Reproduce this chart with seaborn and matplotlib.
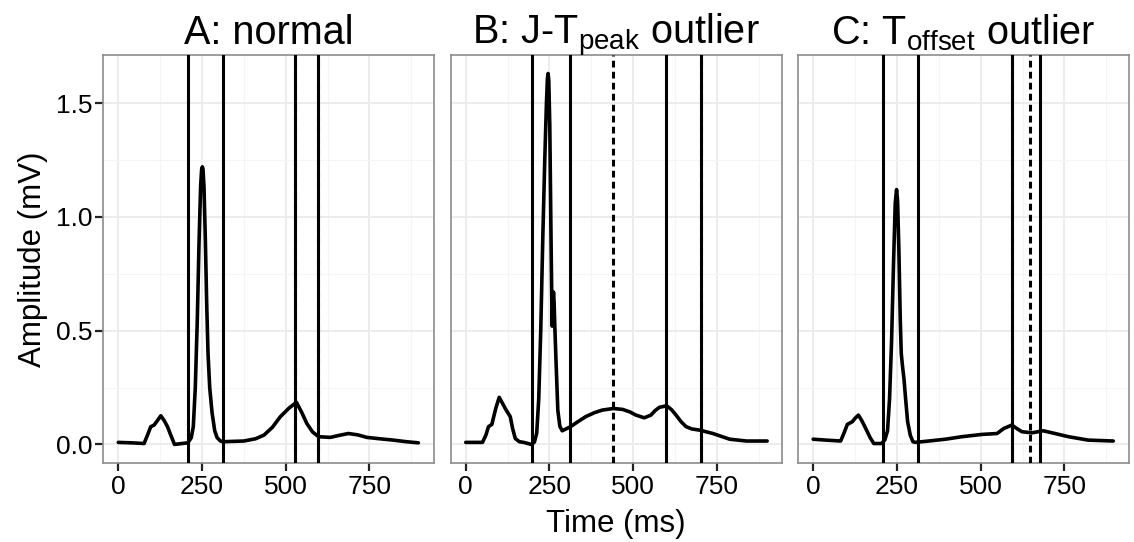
import numpy as np
import pandas as pd
import matplotlib
matplotlib.use("Agg")
import matplotlib.pyplot as plt
import seaborn as sns
from matplotlib.ticker import MultipleLocator

sns.set_theme(style="whitegrid")
plt.rcParams['font.family'] = ['Liberation Sans', 'DejaVu Sans']
plt.rcParams['mathtext.fontset'] = 'custom'
plt.rcParams['mathtext.rm'] = 'Liberation Sans'
plt.rcParams['text.color'] = 'black'
plt.rcParams['axes.labelcolor'] = 'black'

# ---- data (time in ms, amplitude in mV) ----
time_a = [0, 40, 77, 87, 97, 107, 117, 127, 137, 147, 157, 168, 190, 208, 218, 224, 230, 236,
          241, 246, 249, 251, 253, 256, 260, 264, 268, 273, 280, 288, 295, 305, 313, 375,
          410, 435, 460, 484, 510, 532, 548, 563, 580, 598, 633, 660, 687, 715, 742, 780,
          821, 860, 896]
amp_a = [0.009, 0.007, 0.004, 0.04, 0.078, 0.085, 0.105, 0.126, 0.105, 0.078, 0.04, 0.0,
         0.004, 0.007, 0.03, 0.078, 0.25, 0.55, 0.88, 1.14, 1.21, 1.22, 1.21, 1.13, 0.9, 0.62,
         0.4, 0.25, 0.14, 0.06, 0.03, 0.015, 0.012, 0.015, 0.025, 0.041, 0.075, 0.122, 0.16,
         0.185, 0.14, 0.092, 0.055, 0.034, 0.031, 0.04, 0.048, 0.042, 0.031, 0.025, 0.019,
         0.012, 0.007]

time_b = [0, 50, 60, 68, 78, 90, 100, 110, 118, 133, 140, 148, 160, 173, 196, 205, 212, 218,
          224, 230, 236, 241, 244, 246, 248, 251, 254, 256, 258, 260, 262, 264, 266, 270, 275,
          281, 288, 295, 313, 335, 358, 385, 408, 441, 468, 490, 508, 533, 553, 565, 578, 600,
          615, 628, 643, 658, 675, 698, 738, 788, 838, 900]
amp_b = [0.009, 0.009, 0.04, 0.078, 0.088, 0.16, 0.207, 0.18, 0.158, 0.122, 0.07, 0.026,
         0.012, 0.009, 0.0, 0.01, 0.05, 0.2, 0.5, 0.9, 1.25, 1.5, 1.61, 1.63, 1.6, 1.4, 1.0,
         0.75, 0.52, 0.6, 0.67, 0.62, 0.52, 0.35, 0.15, 0.08, 0.06, 0.065, 0.078, 0.1, 0.122,
         0.14, 0.151, 0.158, 0.154, 0.143, 0.129, 0.117, 0.129, 0.148, 0.163, 0.170, 0.152,
         0.129, 0.1, 0.078, 0.068, 0.063, 0.048, 0.023, 0.015, 0.015]

time_c = [0, 38, 82, 92, 102, 117, 125, 135, 145, 157, 170, 181, 204, 214, 222, 228, 234, 240,
          245, 249, 252, 256, 260, 263, 267, 271, 276, 282, 290, 298, 305, 345, 395, 444, 504,
          549, 569, 593, 608, 623, 653, 687, 722, 762, 821, 896]
amp_c = [0.023, 0.019, 0.015, 0.05, 0.088, 0.10, 0.115, 0.129, 0.105, 0.07, 0.03, 0.004,
         0.004, 0.02, 0.06, 0.2, 0.45, 0.8, 1.06, 1.12, 1.07, 0.85, 0.55, 0.4, 0.34, 0.29,
         0.2, 0.1, 0.04, 0.012, 0.009, 0.015, 0.023, 0.034, 0.044, 0.048, 0.07, 0.085, 0.07,
         0.056, 0.051, 0.06, 0.048, 0.034, 0.019, 0.015]

# annotated fiducial points (solid) and reference points (dashed)
solid_a = [208, 313, 529, 595]
dashed_a = [529, 597]
solid_b = [199, 311, 597, 701]
dashed_b = [440, 701]
solid_c = [207, 313, 593, 676]
dashed_c = [593, 648]

titles = ["A: normal", r"B: J-T$_{\mathrm{peak}}$ outlier", r"C: T$_{\mathrm{offset}}$ outlier"]
x_ticks = [0, 250, 500, 750]
y_ticks = [0.0, 0.5, 1.0, 1.5]

panels = [
    (time_a, amp_a, solid_a, dashed_a),
    (time_b, amp_b, solid_b, dashed_b),
    (time_c, amp_c, solid_c, dashed_c),
]

fig, axes = plt.subplots(1, 3, figsize=(11.34, 5.42), dpi=100, sharey=True)
fig.subplots_adjust(left=0.091, right=0.9956, top=0.8985, bottom=0.1458, wspace=0.05)

for i, (ax, (t, a, sol, das)) in enumerate(zip(axes, panels)):
    df = pd.DataFrame({"time": t, "amp": a})
    sns.lineplot(data=df, x="time", y="amp", ax=ax, color="black", linewidth=2.6)
    for v in sol:
        ax.axvline(v, color="black", linewidth=2.2, zorder=3)
    for v in das:
        ax.axvline(v, color="black", linewidth=2.2, ls=(0, (2.2, 1.4)), zorder=3)

    ax.set_xlim(-45, 943)
    ax.set_ylim(-0.0815, 1.7115)
    ax.set_xticks(x_ticks)
    ax.set_xticklabels([str(v) for v in x_ticks])
    ax.xaxis.set_minor_locator(MultipleLocator(125))
    ax.yaxis.set_minor_locator(MultipleLocator(0.25))
    ax.set_yticks(y_ticks)
    ax.set_facecolor("white")
    ax.grid(True, which="major", color="#EBEBEB", lw=1.3)
    ax.grid(True, which="minor", color="#F5F5F5", lw=0.8)
    ax.set_axisbelow(True)
    for s in ax.spines.values():
        s.set_visible(True)
        s.set_color("#8c8c8c")
        s.set_linewidth(1.2)
    ax.tick_params(axis="x", which="major", length=5.5, width=1.6, color="#222222",
                   labelsize=19, labelcolor="black", pad=3, bottom=True)
    ax.tick_params(which="minor", length=0)
    if i == 0:
        ax.tick_params(axis="y", which="major", length=5.5, width=1.6, color="#222222",
                       labelsize=19, labelcolor="black", pad=2, left=True)
        ax.set_yticklabels(["0.0", "0.5", "1.0", "1.5"])
        ax.set_ylabel("Amplitude (mV)", fontsize=22.5, labelpad=6)
    else:
        ax.tick_params(axis="y", which="both", length=0, left=False, labelleft=False)
        ax.set_ylabel("")
    ax.set_xlabel("")
    ax.set_title(titles[i], fontsize=28.5, pad=8)

fig.supxlabel("Time (ms)", fontsize=22.5, x=0.543, y=0.005)

plt.savefig("out.png", dpi=100)
plt.close()
